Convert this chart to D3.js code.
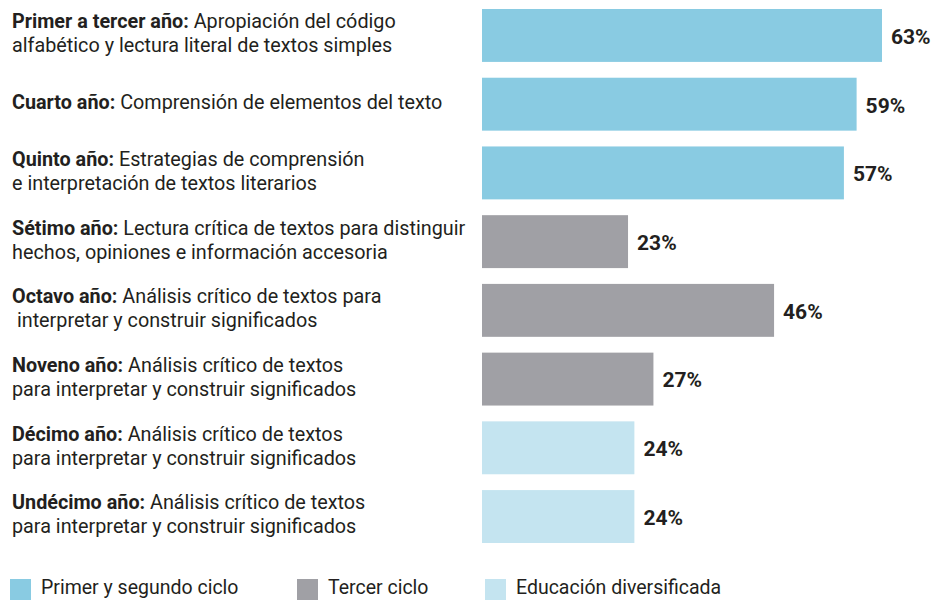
<!DOCTYPE html>
<html>
<head>
<meta charset="utf-8">
<script src="https://cdn.jsdelivr.net/npm/d3@7"></script>
<style>
  body { margin: 0; background: #fff; }
  svg { font-family: "Roboto", sans-serif; }
</style>
</head>
<body>
<svg id="chart" width="933" height="600"></svg>
<script>
const grades = ["Primer a tercer año:", "Cuarto año:", "Quinto año:", "Sétimo año:", "Octavo año:", "Noveno año:", "Décimo año:", "Undécimo año:"];
const line1 = [" Apropiación del código", " Comprensión de elementos del texto", " Estrategias de comprensión", " Lectura crítica de textos para distinguir", " Análisis crítico de textos para", " Análisis crítico de textos", " Análisis crítico de textos", " Análisis crítico de textos"];
const line2 = ["alfabético y lectura literal de textos simples", "", "e interpretación de textos literarios", "hechos, opiniones e información accesoria", " interpretar y construir significados", "para interpretar y construir significados", "para interpretar y construir significados", "para interpretar y construir significados"];
const values = [63, 59, 57, 23, 46, 27, 24, 24];
const cycles = ["Primer y segundo ciclo", "Primer y segundo ciclo", "Primer y segundo ciclo", "Tercer ciclo", "Tercer ciclo", "Tercer ciclo", "Educación diversificada", "Educación diversificada"];
const legendNames = ["Primer y segundo ciclo", "Tercer ciclo", "Educación diversificada"];
const legendColors = ["#89cbe2", "#a0a0a5", "#c4e4f0"];

const svg = d3.select("#chart");

const x = d3.scaleLinear().domain([0, 63]).range([482, 882]);
const y = d3.scaleBand().domain(d3.range(values.length)).range([9, 543]).paddingInner(0.23).paddingOuter(0);
const color = d3.scaleOrdinal().domain(legendNames).range(legendColors);

const rows = svg.selectAll("g.row")
  .data(values)
  .enter()
  .append("g")
  .attr("class", "row");

rows.append("rect")
  .attr("x", x(0))
  .attr("y", (d, i) => y(i))
  .attr("width", d => x(d) - x(0))
  .attr("height", y.bandwidth())
  .attr("fill", (d, i) => color(cycles[i]));

rows.append("text")
  .attr("x", d => x(d) + 9)
  .attr("y", (d, i) => y(i) + y.bandwidth() / 2 + 1)
  .attr("dy", "0.35em")
  .attr("font-size", 21)
  .attr("font-weight", 700)
  .attr("fill", "#231f20")
  .text(d => d + "%");

const labels = rows.append("text")
  .attr("x", 12)
  .attr("y", (d, i) => y(i) + y.bandwidth() / 2 + (line2[i] ? -14 : -2))
  .attr("dy", "0.35em")
  .attr("font-size", 19.8)
  .attr("fill", "#231f20")
  .attr("xml:space", "preserve")
  .style("white-space", "pre");

labels.append("tspan")
  .attr("font-weight", 700)
  .text((d, i) => grades[i]);
labels.append("tspan")
  .text((d, i) => line1[i]);
labels.append("tspan")
  .attr("x", 12)
  .attr("dy", 24)
  .text((d, i) => line2[i]);

const legend = svg.selectAll("g.legend")
  .data(legendNames)
  .enter()
  .append("g")
  .attr("class", "legend")
  .attr("transform", (d, i) => `translate(${[10, 297, 485][i]},579)`);

legend.append("rect")
  .attr("width", 21)
  .attr("height", 21)
  .attr("fill", d => color(d));

legend.append("text")
  .attr("x", 31)
  .attr("y", 15)
  .attr("font-size", 19.5)
  .attr("fill", "#231f20")
  .text(d => d);
</script>
</body>
</html>
